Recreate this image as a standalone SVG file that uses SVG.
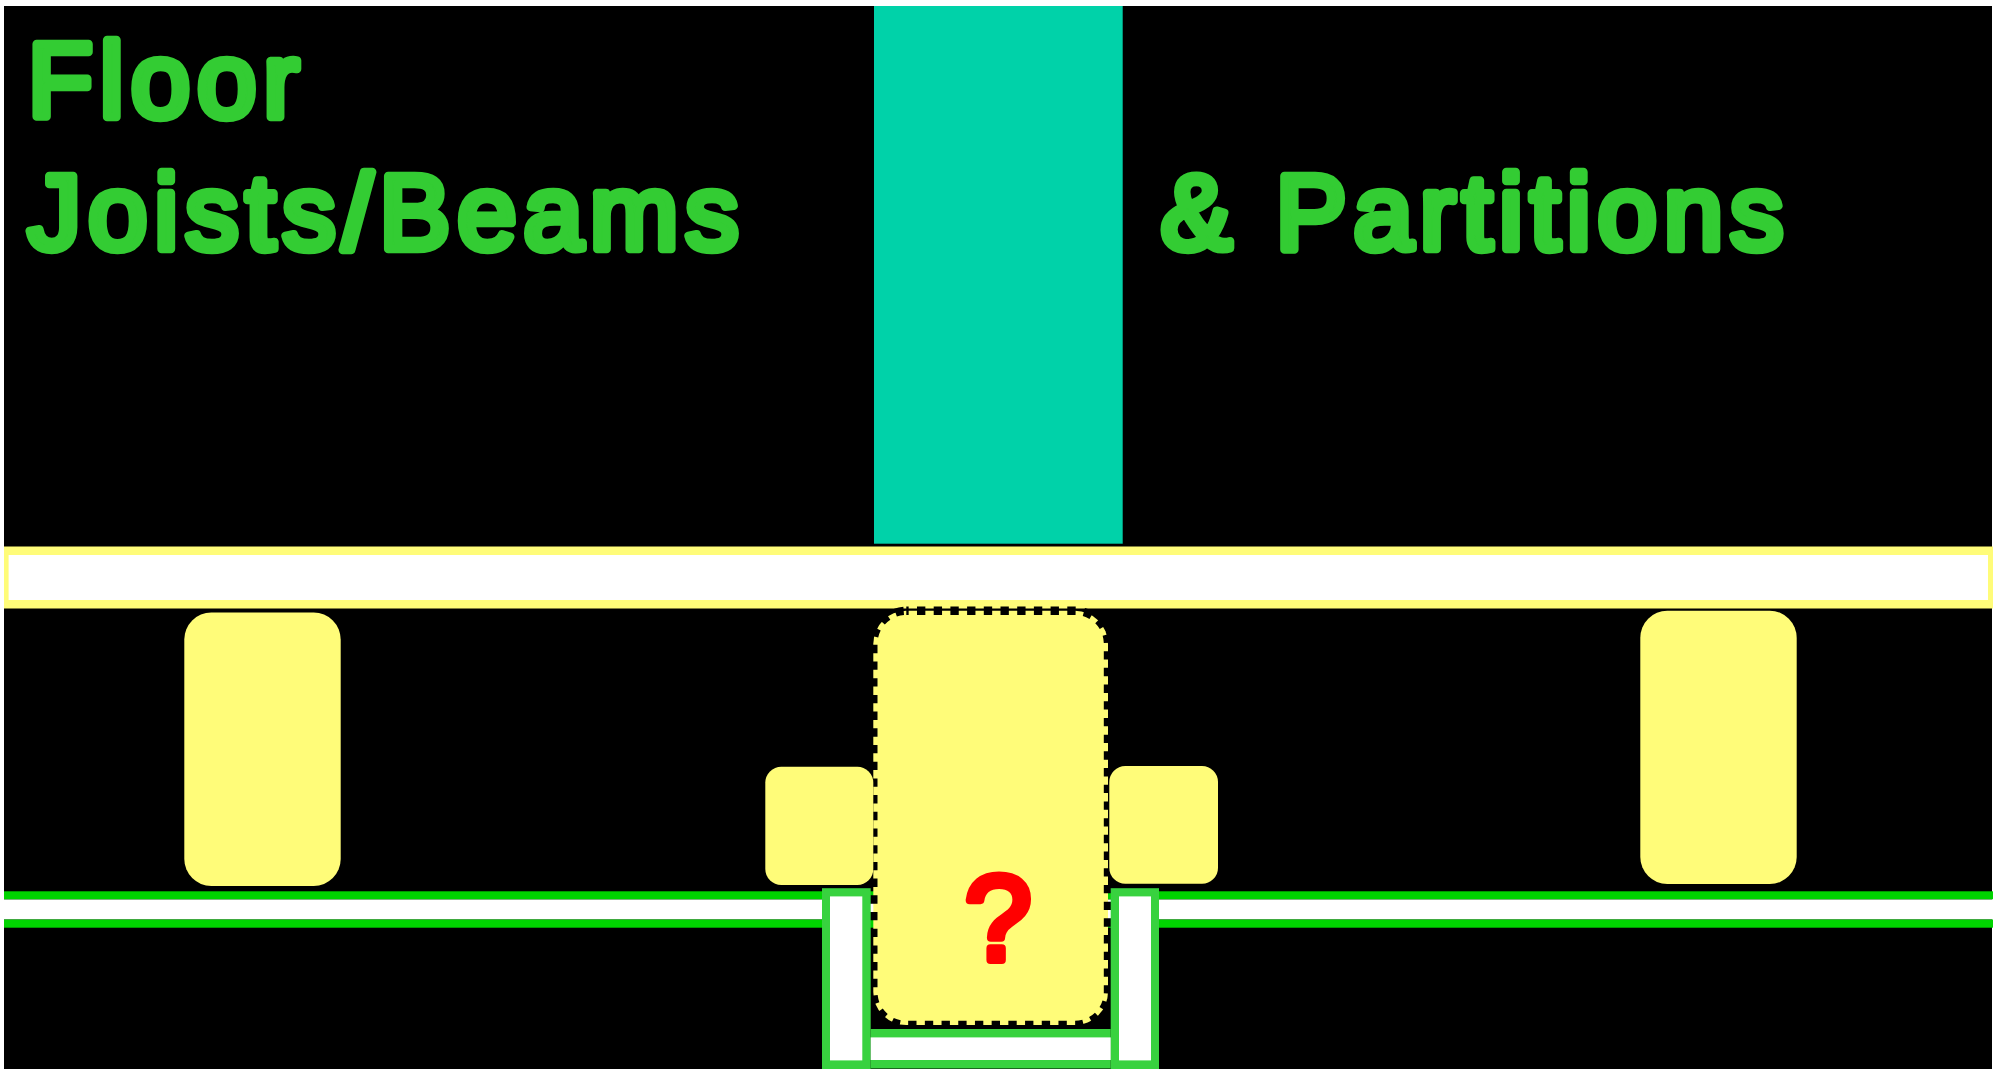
<svg xmlns="http://www.w3.org/2000/svg" width="2002" height="1069" viewBox="0 0 2002 1069">
<style>
.t{font-family:"Liberation Sans",Arial,sans-serif;font-weight:400;font-size:106px;letter-spacing:7.300px;fill:#33cc33;stroke:#33cc33;stroke-width:8.500px;stroke-linejoin:round;stroke-linecap:round}
.y{fill:#fffc79}
.g{fill:#38d23f}
.w{fill:#fff}
.l{fill:#00d400}
</style>
<rect width="2002" height="1069" fill="#fff"/>
<rect id="background" x="4" y="6" width="1988" height="1063" fill="#000"/>
<rect id="column" x="874" y="6" width="248.700" height="537.700" fill="#00d2a9"/>
<g id="beam">
<rect class="y" x="4" y="546.500" width="1989" height="62"/>
<rect class="w" x="8.600" y="555" width="1979.400" height="45"/>
</g>
<g id="floor-line">
<rect class="l" x="4" y="891.300" width="1989" height="8.200"/>
<rect class="w" x="4" y="899.500" width="1989" height="20"/>
<rect class="l" x="4" y="919.500" width="1989" height="8.200"/>
</g>
<g id="joist-left"><rect class="y" x="184.300" y="612.500" width="156.400" height="273.500" rx="27"/></g>
<g id="joist-right"><rect class="y" x="1640.300" y="610.800" width="156.400" height="273.200" rx="27"/></g>
<g id="joist-center"><rect class="y" x="873.300" y="610.800" width="234.700" height="414.200" rx="33" stroke="#000" stroke-width="8.400" stroke-dasharray="8.350 8.350" stroke-dashoffset="6"/></g>
<g id="block-left"><rect class="y" x="765.300" y="766.800" width="108" height="118.200" rx="16"/></g>
<g id="block-right"><rect class="y" x="1109.300" y="766" width="108.700" height="117.700" rx="16"/></g>
<g id="channel">
<rect class="g" x="822" y="888.200" width="48.700" height="180.800"/>
<rect class="w" x="830" y="896.400" width="32.300" height="164"/>
<rect class="g" x="1110.700" y="888.200" width="48.300" height="180.800"/>
<rect class="w" x="1119" y="896.400" width="32" height="164"/>
<rect class="g" x="870.700" y="1029" width="240" height="39.500"/>
<rect class="w" x="870.700" y="1037.400" width="240" height="22.600"/>
</g>
<g id="connectors"></g>
<g id="labels">
<text class="t" x="28" y="116.500">Floor</text>
<text class="t" x="28" y="248.500">Joists/Beams</text>
<text class="t" x="1161" y="248.500">&amp; Partitions</text>
<text class="t" x="998" y="959.500" text-anchor="middle" style="fill:#ff0000;stroke:#ff0000;font-size:120px;letter-spacing:0;stroke-width:8px">?</text>
</g>
</svg>
